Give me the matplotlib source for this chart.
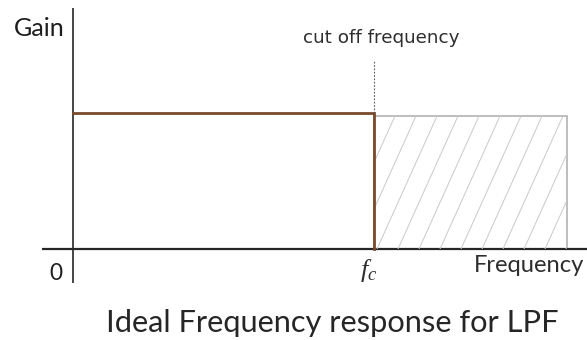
import matplotlib
matplotlib.use("Agg")
import numpy as np
import matplotlib.pyplot as plt
from matplotlib.patches import Rectangle

# Ideal low-pass filter response (normalised units)
cutoff_freq = 1.0          # f_c
passband_gain = 1.0        # gain below f_c
stopband_gain = 0.0        # gain above f_c
stop_region_end = 1.641    # extent of the shaded stop band
stop_region_height = 0.978

axis_labels = ["Gain", "Frequency"]
origin_label = "0"
cutoff_label = "cut off frequency"
cutoff_symbol = r"$f_c$"
title_text = "Ideal Frequency response for LPF"

plt.rcParams["mathtext.fontset"] = "custom"
plt.rcParams["mathtext.it"] = "Liberation Serif:italic"
plt.rcParams["mathtext.rm"] = "Liberation Serif"

W, H = 587, 340
fig = plt.figure(figsize=(W / 100, H / 100), dpi=100)
ax = fig.add_axes([0, 0, 1, 1])

# frequency unit = 301 px, gain unit = 136 px; origin at (73, 249) px
sx, sy = 301.0, 136.0
ox, oy = 73.0, 249.0
ax.set_xlim(-ox / sx, (W - ox) / sx)
ax.set_ylim(-(H - oy) / sy, oy / sy)
ax.axis("off")


def px(x, y):
    """pixel (from top-left) -> figure fraction"""
    return x / W, 1 - y / H


renderer = fig.canvas.get_renderer()


def label(x_left, y_base, s, width, **kw):
    """text with its left edge at x_left, baseline at y_base, fitted to a pixel width"""
    t = fig.text(*px(x_left, y_base), s, fontsize=10, ha="left", va="baseline", **kw)
    w = t.get_window_extent(renderer).width
    t.set_fontsize(10 * width / w)
    return t


axis_col = "#262626"
# axes
ax.plot([0, 0], [(oy - 283) / sy, (oy - 8) / sy], color=axis_col, lw=1.2,
        solid_capstyle="butt")
ax.plot([(42 - ox) / sx, (W - ox) / sx], [0, 0], color=axis_col, lw=1.6,
        solid_capstyle="butt")

# shaded stop band with steep diagonal hatching
band = Rectangle((cutoff_freq, stopband_gain), stop_region_end - cutoff_freq,
                 stop_region_height, facecolor="none", edgecolor="#ababab", lw=1.1)
ax.add_patch(band)
slant = 60.0 / sx   # horizontal run of one hatch line across the band height
for x0 in np.arange(cutoff_freq - slant, stop_region_end + 0.01, 21.0 / sx):
    ln, = ax.plot([x0, x0 + slant], [stopband_gain, stop_region_height],
                  color="#c9c9c9", lw=0.7)
    ln.set_clip_path(band)

# ideal response
resp_col = "#7a4a2c"
ax.plot([0, cutoff_freq, cutoff_freq], [passband_gain, passband_gain, stopband_gain],
        color=resp_col, lw=2.0, solid_joinstyle="miter")

# cut-off marker
ax.plot([cutoff_freq, cutoff_freq], [passband_gain, (oy - 60) / sy], color="#5a5a5a",
        lw=0.8, ls=(0, (1.5, 1.5)))

label(303, 43, cutoff_label, 157, family="DejaVu Sans", color="#2e2e2e")
label(14, 36, axis_labels[0], 51, family="Lato", color="#1e1e1e")
label(474, 272, axis_labels[1], 111, family="Lato", color="#2e2e2e")
label(49, 280, origin_label, 13, family="Lato", color="#1e1e1e")
fig.text(*px(369, 277), cutoff_symbol, fontsize=19, color="#2e2e2e",
         ha="center", va="baseline")

label(106, 332, title_text, 452, family="Lato", color="#262626")

fig.savefig("out.png", dpi=100)
